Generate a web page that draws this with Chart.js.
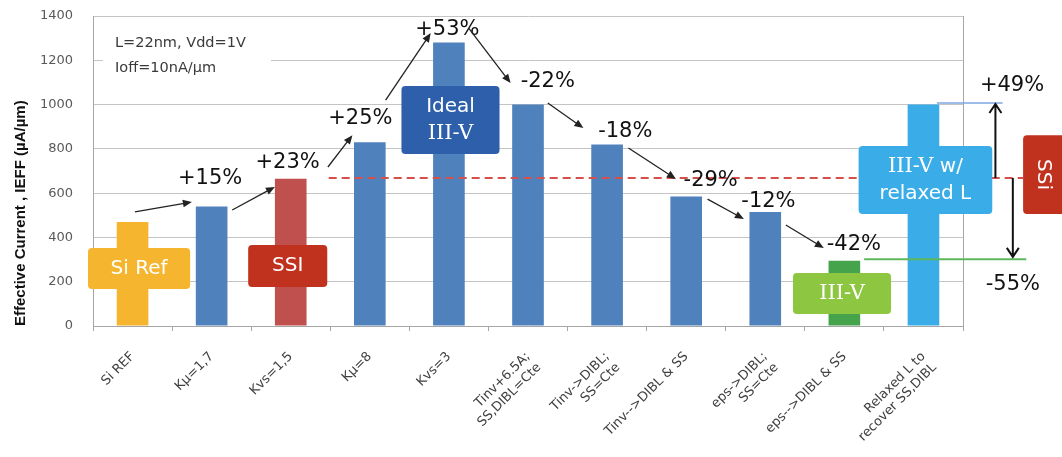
<!DOCTYPE html>
<html>
<head>
<meta charset="utf-8">
<script src="https://cdn.jsdelivr.net/npm/chart.js@4.4.1/dist/chart.umd.min.js"></script>
<style>
html, body { margin: 0; padding: 0; background: #fff; }
#wrap { width: 1062px; height: 457px; position: relative; }
</style>
</head>
<body>
<div id="wrap"><canvas id="chart"></canvas></div>
<script>
// DATA
let categories = ['Si REF', 'Kµ=1,7', 'Kvs=1,5', 'Kµ=8', 'Kvs=3',
    ['Tinv+6.5A;', 'SS,DIBL=Cte'], ['Tinv->DIBL;', 'SS=Cte'], 'Tinv-->DIBL & SS',
    ['eps->DIBL;', 'SS=Cte'], 'eps-->DIBL & SS', ['Relaxed L to', 'recover SS,DIBL']];
let currents = [470, 540, 665, 830, 1280, 1000, 820, 585, 515, 295, 1000];
let barColors = ['#F5B52E', '#4F81BD', '#C0504D', '#4F81BD', '#4F81BD', '#4F81BD',
    '#4F81BD', '#4F81BD', '#4F81BD', '#45A34B', '#3AADE8'];
let yTicks = [0, 200, 400, 600, 800, 1000, 1200, 1400];

// step labels: text, category position, value
let steps = ['+15%', '+23%', '+25%', '+53%', '-22%', '-18%', '-29%', '-12%', '-42%', '+49%', '-55%'];
let stepAt = [[0.98, 664], [1.96, 736], [2.88, 939], [3.98, 1341], [5.25, 1102], [6.23, 876],
    [7.31, 659], [8.04, 560], [9.12, 366], [11.12, 1084], [11.13, 185]];

// arrows from -> to (category position, value)
let arrows = [
    [0.03, 515, 0.75, 560], [1.26, 524, 1.80, 628], [2.47, 718, 2.78, 862],
    [3.20, 1020, 3.77, 1323], [4.25, 1345, 4.78, 1097], [5.25, 1007, 5.70, 894],
    [6.27, 804, 6.87, 664], [7.27, 573, 7.73, 483], [8.26, 456, 8.74, 352]
];

let ssiLevel = 668;
let iiivLevel = 302;
let relaxedLevel = 1007;

// labelled boxes: lines, left, right, top value, bottom value, colour
let boxes = [
    [['Si Ref'], -0.563, 0.728, 352, 167, '#F5B52E'],
    [['SSI'], 1.462, 2.462, 366, 176, '#C0311E'],
    [['Ideal', '#III-V'], 3.40, 4.64, 1084, 777, '#2E5FAB'],
    [['#III-V'], 8.35, 9.59, 239, 54, '#8DC641'],
    [['#III-V| w/', 'relaxed L'], 9.18, 10.87, 813, 506, '#3AADE8']
];

let sans = '"DejaVu Sans", Verdana, sans-serif';
let serif = '"DejaVu Serif", serif';

function drawArrow(ctx, x1, y1, x2, y2) {
    let a = Math.atan2(y2 - y1, x2 - x1);
    let h = 9, w = 3.8;
    ctx.beginPath();
    ctx.moveTo(x1, y1);
    ctx.lineTo(x2 - Math.cos(a) * h * 0.7, y2 - Math.sin(a) * h * 0.7);
    ctx.stroke();
    ctx.beginPath();
    ctx.moveTo(x2, y2);
    ctx.lineTo(x2 - h * Math.cos(a) + w * Math.sin(a), y2 - h * Math.sin(a) - w * Math.cos(a));
    ctx.lineTo(x2 - h * Math.cos(a) - w * Math.sin(a), y2 - h * Math.sin(a) + w * Math.cos(a));
    ctx.closePath();
    ctx.fill();
}

function drawOpenArrow(ctx, x, y1, y2) {
    let d = y2 > y1 ? 1 : -1;
    ctx.beginPath();
    ctx.moveTo(x, y1);
    ctx.lineTo(x, y2);
    ctx.moveTo(x - 6, y2 - d * 9);
    ctx.lineTo(x, y2);
    ctx.lineTo(x + 6, y2 - d * 9);
    ctx.stroke();
}

function roundRect(ctx, x, y, w, h, r) {
    ctx.beginPath();
    ctx.moveTo(x + r, y);
    ctx.lineTo(x + w - r, y);
    ctx.quadraticCurveTo(x + w, y, x + w, y + r);
    ctx.lineTo(x + w, y + h - r);
    ctx.quadraticCurveTo(x + w, y + h, x + w - r, y + h);
    ctx.lineTo(x + r, y + h);
    ctx.quadraticCurveTo(x, y + h, x, y + h - r);
    ctx.lineTo(x, y + r);
    ctx.quadraticCurveTo(x, y, x + r, y);
    ctx.closePath();
    ctx.fill();
}

// a line is "#serif part|sans part" or plain sans
function boxLine(ctx, line, cx, cy) {
    let parts = [];
    if (line[0] === '#') {
        let p = line.slice(1).split('|');
        parts.push([p[0], '21px ' + serif]);
        if (p[1]) parts.push([p[1], '20px ' + sans]);
    } else {
        parts.push([line, '20px ' + sans]);
    }
    let total = 0;
    parts.forEach(p => { ctx.font = p[1]; total += ctx.measureText(p[0]).width; });
    let x = cx - total / 2;
    ctx.textAlign = 'left';
    parts.forEach(p => {
        ctx.font = p[1];
        ctx.fillText(p[0], x, cy);
        x += ctx.measureText(p[0]).width;
    });
}

let frame = {
    id: 'frame',
    beforeDatasetsDraw(chart) {
        let ctx = chart.ctx, a = chart.chartArea;
        ctx.save();
        ctx.strokeStyle = '#A6A6A6';
        ctx.lineWidth = 1;
        ctx.beginPath();
        ctx.moveTo(Math.round(a.right) + 0.5, a.top);
        ctx.lineTo(Math.round(a.right) + 0.5, a.bottom);
        ctx.stroke();
        // condition text backdrop
        ctx.fillStyle = '#fff';
        ctx.fillRect(a.left + 10, a.top + 12, 168, 54);
        ctx.restore();
    }
};

let notes = {
    id: 'notes',
    afterDatasetsDraw(chart) {
        let ctx = chart.ctx, xs = chart.scales.x, ys = chart.scales.y, a = chart.chartArea;
        let X = v => xs.getPixelForValue(v), Y = v => ys.getPixelForValue(v);
        ctx.save();

        // reference levels
        ctx.strokeStyle = '#D64F4A';
        ctx.lineWidth = 2;
        ctx.setLineDash([8, 5]);
        ctx.beginPath();
        ctx.moveTo(X(2.48), Y(ssiLevel));
        ctx.lineTo(X(11.26), Y(ssiLevel));
        ctx.stroke();
        ctx.setLineDash([]);

        ctx.strokeStyle = '#5DB85D';
        ctx.beginPath();
        ctx.moveTo(X(9.25), Y(iiivLevel));
        ctx.lineTo(X(11.3), Y(iiivLevel));
        ctx.stroke();

        ctx.strokeStyle = '#7EA6E0';
        ctx.lineWidth = 1.5;
        ctx.beginPath();
        ctx.moveTo(X(10.17), Y(relaxedLevel));
        ctx.lineTo(X(11.0), Y(relaxedLevel));
        ctx.stroke();

        // boxes
        ctx.textBaseline = 'middle';
        boxes.forEach(b => {
            let x0 = X(b[1]), x1 = X(b[2]), y0 = Y(b[3]), y1 = Y(b[4]);
            ctx.fillStyle = b[5];
            roundRect(ctx, x0, y0, x1 - x0, y1 - y0, 4);
            ctx.fillStyle = '#fff';
            let cx = (x0 + x1) / 2, cy = (y0 + y1) / 2;
            let n = b[0].length;
            b[0].forEach((line, i) => boxLine(ctx, line, cx, cy + (i - (n - 1) / 2) * 27));
        });

        // SSi box on the right, rotated text
        let sx0 = X(11.26), sx1 = X(11.77), sy0 = Y(862), sy1 = Y(506);
        ctx.fillStyle = '#C0311E';
        roundRect(ctx, sx0, sy0, sx1 - sx0 + 6, sy1 - sy0, 4);
        ctx.save();
        ctx.translate((sx0 + sx1) / 2, (sy0 + sy1) / 2);
        ctx.rotate(Math.PI / 2);
        ctx.fillStyle = '#fff';
        ctx.font = '20px ' + sans;
        ctx.textAlign = 'center';
        ctx.fillText('SSi', 0, 0);
        ctx.restore();

        // step labels
        ctx.fillStyle = '#111';
        ctx.font = '21px ' + sans;
        ctx.textAlign = 'center';
        steps.forEach((t, i) => ctx.fillText(t, X(stepAt[i][0]), Y(stepAt[i][1])));

        // arrows
        ctx.strokeStyle = '#222';
        ctx.fillStyle = '#222';
        ctx.lineWidth = 1.3;
        arrows.forEach(r => drawArrow(ctx, X(r[0]), Y(r[1]), X(r[2]), Y(r[3])));
        ctx.lineWidth = 2;
        ctx.strokeStyle = '#111';
        drawOpenArrow(ctx, X(10.91), Y(ssiLevel), Y(relaxedLevel) + 1);
        drawOpenArrow(ctx, X(11.13), Y(ssiLevel), Y(iiivLevel + 10));

        // conditions
        ctx.fillStyle = '#3A3A3A';
        ctx.font = '14.5px ' + sans;
        ctx.textAlign = 'left';
        ctx.fillText('L=22nm, Vdd=1V', a.left + 22, a.top + 27);
        ctx.fillText('Ioff=10nA/µm', a.left + 22, a.top + 52);
        ctx.restore();
    }
};

let ctxEl = document.querySelector('#chart').getContext('2d');
let currentChart = new Chart(ctxEl, {
    type: 'bar',
    data: {
        labels: categories,
        datasets: [{
            data: currents,
            backgroundColor: barColors,
            borderWidth: 0,
            categoryPercentage: 1,
            barPercentage: 0.4
        }]
    },
    options: {
        responsive: true,
        maintainAspectRatio: false,
        animation: false,
        devicePixelRatio: 1,
        layout: { padding: { top: 16, right: 99, left: 0, bottom: 0 } },
        plugins: {
            legend: { display: false },
            tooltip: { enabled: false }
        },
        scales: {
            x: {
                afterFit: s => { s.height = 131; },
                grid: { display: true, drawOnChartArea: false, tickLength: 5, color: '#A6A6A6' },
                border: { color: '#A6A6A6' },
                ticks: {
                    autoSkip: false,
                    minRotation: 45,
                    maxRotation: 45,
                    padding: 18,
                    color: '#404040',
                    font: { family: sans, size: 13 }
                }
            },
            y: {
                min: 0,
                max: 1400,
                afterFit: s => { s.width = 93; s.paddingTop = 0; s.paddingBottom = 0; },
                afterBuildTicks: s => { s.ticks = yTicks.map(v => ({ value: v })); },
                grid: { color: '#C4C4C4', drawTicks: false },
                border: { color: '#A6A6A6' },
                ticks: {
                    padding: 20,
                    color: '#595959',
                    font: { family: sans, size: 13 },
                    callback: v => String(v)
                },
                title: {
                    display: true,
                    text: 'Effective Current , IEFF (µA/µm)',
                    align: 'start',
                    color: '#111',
                    padding: { top: 12, bottom: 0 },
                    font: { family: '"Liberation Sans", Arial, sans-serif', size: 15, weight: 'bold' }
                }
            }
        }
    },
    plugins: [frame, notes]
});
</script>
</body>
</html>
